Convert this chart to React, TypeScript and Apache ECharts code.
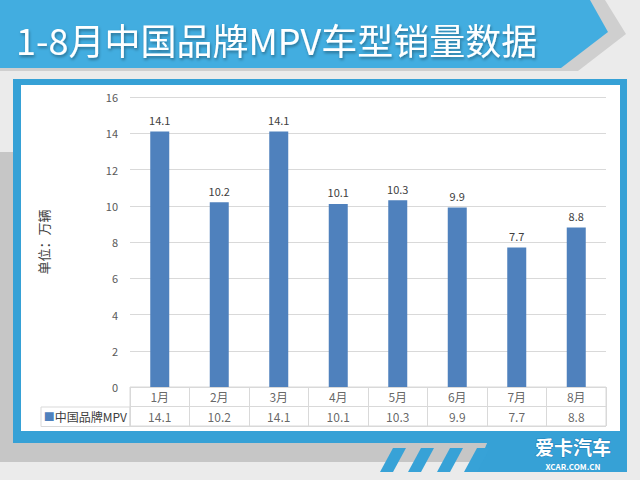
import React, { useEffect, useRef } from "react";
import * as echarts from "echarts";

const months = ["1月", "2月", "3月", "4月", "5月", "6月", "7月", "8月"];
const seriesName = "中国品牌MPV";
const values = [14.1, 10.2, 14.1, 10.1, 10.3, 9.9, 7.7, 8.8];
const title = "1-8月中国品牌MPV车型销量数据";
const yAxisName = "单位：万辆";
const tableRows = ["month", "value"];

const FONT = "'Noto Sans CJK SC', 'Noto Sans', sans-serif";
const BAR = "#4f81bd";
const GRID = "#d9d9d9";
const TXT = "#404040";

export default function App() {
  const ref = useRef<HTMLDivElement>(null);
  useEffect(() => {
    if (!ref.current) return;
    const chart = echarts.init(ref.current, null, { renderer: "svg" });
    const stripes = [380, 408, 437, 464].map((x) => ({
      type: "polygon",
      z: -8,
      silent: true,
      shape: { points: [[x, 472], [x + 13, 472], [x + 26, 448], [x + 13, 448]] },
      style: { fill: "#37a2d7" },
    }));
    const tableData: any[] = [];
    months.forEach((m, i) => {
      tableData.push({ value: [m, "month"], txt: m });
      tableData.push({ value: [m, "value"], txt: String(values[i]) });
    });
    chart.setOption({
      animation: false,
      backgroundColor: "#ebebeb",
      textStyle: { fontFamily: FONT },
      graphic: [
        {
          type: "polygon", z: -10, silent: true,
          shape: { points: [[0, 152], [100, 152], [100, 443], [487, 443], [480, 462], [0, 462]] },
          style: { fill: "#c6c6c6" },
        },
        {
          type: "polygon", z: -9, silent: true,
          shape: { points: [[13, 79], [627, 79], [627, 472], [475, 472], [487, 443], [13, 443]] },
          style: { fill: "#36a1d6" },
        },
        ...stripes,
        {
          type: "rect", z: -7, silent: true,
          shape: { x: 21, y: 85, width: 599, height: 346 },
          style: { fill: "#ffffff" },
        },
        {
          type: "polygon", z: -6, silent: true,
          shape: { points: [[0, 0], [605, 0], [626, 34], [578, 71], [0, 71]] },
          style: { fill: "#cfcfcf" },
        },
        {
          type: "polygon", z: -5, silent: true,
          shape: { points: [[0, 0], [590, 0], [608, 32], [561, 68], [0, 68]] },
          style: { fill: "#42ade0" },
        },
        {
          type: "text", z: 10, silent: true, x: 16, y: 39,
          style: {
            text: title, fill: "#ffffff", font: `36px ${FONT}`,
            textVerticalAlign: "middle",
            textShadowColor: "rgba(0,0,0,0.35)", textShadowBlur: 3, textShadowOffsetX: 1, textShadowOffsetY: 2,
          },
        },
        {
          type: "rect", z: 5, silent: true,
          shape: { x: 41, y: 407, width: 89, height: 19.5 },
          style: { fill: "none", stroke: GRID, lineWidth: 1 },
        },
        {
          type: "text", z: 10, silent: true, x: 573, y: 446,
          style: {
            text: "爱卡汽车", fill: "#ffffff", font: `bold 19px ${FONT}`,
            textAlign: "center", textVerticalAlign: "middle",
            stroke: "#1f7fb8", lineWidth: 1,
          },
        },
        {
          type: "text", z: 10, silent: true, x: 573, y: 466,
          style: {
            text: "XCAR.COM.CN", fill: "#ffffff", font: `bold 8px ${FONT}`,
            textAlign: "center", textVerticalAlign: "middle",
          },
        },
      ],
      grid: [
        { left: 130, right: 34, top: 97, bottom: 93 },
        { left: 130, right: 34, top: 387, height: 39, show: true, borderColor: GRID, borderWidth: 1, backgroundColor: "transparent" },
      ],
      xAxis: [
        {
          type: "category", gridIndex: 0, data: months,
          axisLine: { show: false }, axisTick: { show: false }, axisLabel: { show: false },
        },
        {
          type: "category", gridIndex: 1, data: months,
          axisLine: { show: false }, axisTick: { show: false }, axisLabel: { show: false },
          splitLine: { show: true, lineStyle: { color: GRID } },
        },
      ],
      yAxis: [
        {
          type: "value", gridIndex: 0, min: 0, max: 16, interval: 2,
          name: yAxisName, nameLocation: "middle", nameGap: 80, nameRotate: 90,
          nameTextStyle: { color: TXT, fontSize: 13, fontFamily: FONT },
          axisLine: { show: false }, axisTick: { show: false },
          axisLabel: { color: "#595959", fontSize: 11, margin: 12, fontFamily: FONT },
          splitLine: { lineStyle: { color: GRID } },
        },
        {
          type: "category", gridIndex: 1, data: tableRows, inverse: true,
          axisLine: { show: false }, axisTick: { show: false },
          splitLine: { show: true, lineStyle: { color: GRID } },
          axisLabel: {
            margin: 3,
            formatter: (v: string) => (v === "value" ? `{sq|■}{t|${seriesName}}` : ""),
            rich: {
              sq: { color: BAR, fontSize: 11, fontFamily: FONT },
              t: { color: TXT, fontSize: 12, fontFamily: FONT },
            },
          },
        },
      ],
      series: [
        {
          type: "bar", name: seriesName, xAxisIndex: 0, yAxisIndex: 0,
          data: values, barWidth: 19,
          itemStyle: { color: BAR },
          label: { show: true, position: "top", distance: 6, color: TXT, fontSize: 11, fontFamily: FONT },
        },
        {
          type: "scatter", xAxisIndex: 1, yAxisIndex: 1,
          data: tableData, symbolSize: 1,
          itemStyle: { color: "rgba(0,0,0,0)" },
          label: {
            show: true, position: "inside", color: TXT, fontSize: 12, fontFamily: FONT,
            formatter: (p: any) => p.data.txt,
          },
        },
      ],
    });
    return () => chart.dispose();
  }, []);
  return (
    <div
      ref={ref}
      style={{ position: "fixed", left: 0, top: 0, width: 640, height: 480 }}
    />
  );
}
